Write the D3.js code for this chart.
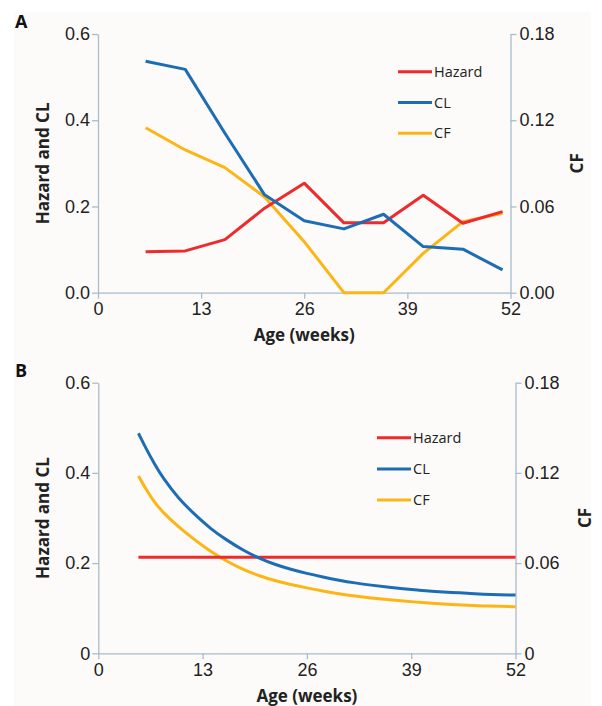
<!DOCTYPE html>
<html>
<head>
<meta charset="utf-8">
<script src="https://cdn.jsdelivr.net/npm/d3@7"></script>
<style>
  body { margin: 0; background: #ffffff; }
  svg { display: block; font-family: "Open Sans", "Noto Sans", sans-serif; }
</style>
</head>
<body>
<svg id="chart" width="602" height="706"></svg>
<script>
// ---------- Data ----------
// Panel A (observed, weekly steps)
const weeksA = [6, 11, 16, 21, 26, 31, 36, 41, 46, 51];
const hazardA = [0.095, 0.097, 0.123, 0.196, 0.254, 0.162, 0.162, 0.226, 0.161, 0.188];
const clA = [0.537, 0.518, 0.370, 0.227, 0.167, 0.148, 0.182, 0.107, 0.101, 0.053];
const cfA = [0.1148, 0.0993, 0.0870, 0.0666, 0.0355, 0.0, 0.0, 0.0274, 0.0494, 0.0552];

// Panel B (model, smooth curves)
const weeksB = [5, 6, 7, 8, 10, 12, 14, 16, 18, 20, 22, 24, 26, 28, 30, 32, 34, 36, 38, 40, 42, 44, 46, 48, 50, 52];
const clB = [0.488, 0.452, 0.420, 0.390, 0.343, 0.308, 0.276, 0.251, 0.229, 0.211, 0.197, 0.186, 0.177, 0.169, 0.162, 0.156, 0.151, 0.147, 0.143, 0.140, 0.137, 0.135, 0.133, 0.131, 0.130, 0.129];
const cfB = [0.118, 0.1085, 0.1005, 0.0940, 0.0840, 0.0755, 0.0677, 0.0612, 0.0558, 0.0516, 0.0483, 0.0457, 0.0435, 0.0414, 0.0396, 0.0381, 0.0368, 0.0357, 0.0347, 0.0339, 0.0331, 0.0325, 0.0319, 0.0315, 0.0312, 0.0310];
const hazardWeeksB = [5, 52];
const hazardB = [0.213, 0.213];

const xTicks = [0, 13, 26, 39, 52];
const leftTicksA = [0, 0.2, 0.4, 0.6];
const rightTicksA = [0, 0.06, 0.12, 0.18];
const leftTicksB = [0, 0.2, 0.4, 0.6];
const rightTicksB = [0, 0.06, 0.12, 0.18];
const seriesNames = ["Hazard", "CL", "CF"];
const seriesColors = ["#ee2a2a", "#1c6db5", "#fdb515"];

// ---------- Drawing ----------
const svg = d3.select("#chart");
svg.append("rect").attr("x", 14).attr("y", 12).attr("width", 577).attr("height", 694).attr("fill", "#fcfbf9");

const axisColor = "#a9bccb";

function panel(cfg) {
  const x = d3.scaleLinear().domain([0, 52]).range([cfg.left, cfg.right]);
  const yL = d3.scaleLinear().domain([0, 0.6]).range([cfg.bottom, cfg.top]);
  const yR = d3.scaleLinear().domain([0, 0.18]).range([cfg.bottom, cfg.top]);
  const g = svg.append("g");

  const styleAxis = (sel) => {
    sel.selectAll("path, line").attr("stroke", axisColor).attr("stroke-width", 1.3);
    sel.selectAll("text").attr("fill", "#222").style("font-size", cfg.tickFont + "px");
  };

  g.append("g").attr("transform", `translate(0,${cfg.bottom})`)
    .call(d3.axisBottom(x).tickValues(xTicks).tickSize(6).tickSizeOuter(0).tickPadding(4).tickFormat(d3.format("d")))
    .call(styleAxis);
  g.append("g").attr("transform", `translate(${cfg.left},0)`)
    .call(d3.axisLeft(yL).tickValues(cfg.leftTicks).tickSize(6).tickSizeOuter(0).tickPadding(2).tickFormat(cfg.leftFmt))
    .call(styleAxis);
  g.append("g").attr("transform", `translate(${cfg.right},0)`)
    .call(d3.axisRight(yR).tickValues(cfg.rightTicks).tickSize(6).tickSizeOuter(0).tickPadding(3).tickFormat(cfg.rightFmt))
    .call(styleAxis);

  const lineL = d3.line().x(d => x(d[0])).y(d => yL(d[1])).curve(cfg.curve);
  const lineR = d3.line().x(d => x(d[0])).y(d => yR(d[1])).curve(cfg.curve);

  const order = [
    { data: d3.zip(cfg.cfWeeks, cfg.cf), gen: lineR, color: seriesColors[2] },
    { data: d3.zip(cfg.hzWeeks, cfg.hazard), gen: lineL, color: seriesColors[0] },
    { data: d3.zip(cfg.clWeeks, cfg.cl), gen: lineL, color: seriesColors[1] }
  ];
  order.forEach(s => {
    g.append("path").attr("d", s.gen(s.data)).attr("fill", "none")
      .attr("stroke", s.color).attr("stroke-width", 3).attr("stroke-linejoin", "round");
  });

  // legend
  seriesNames.forEach((name, i) => {
    const ly = cfg.legY + i * cfg.legStep;
    g.append("line").attr("x1", cfg.legX).attr("x2", cfg.legX + 34).attr("y1", ly).attr("y2", ly)
      .attr("stroke", seriesColors[i]).attr("stroke-width", 3);
    g.append("text").attr("x", cfg.legX + 36).attr("y", ly).attr("dy", "0.35em")
      .style("font-size", "14.5px").attr("fill", "#222").text(name);
  });

  // axis titles
  g.append("text").attr("transform", `translate(${cfg.leftTitleX},${(cfg.top + cfg.bottom) / 2}) rotate(-90)`)
    .attr("text-anchor", "middle").attr("dy", "0.35em").style("font-size", "17px").style("font-weight", "bold")
    .attr("fill", "#222").text("Hazard and CL");
  g.append("text").attr("transform", `translate(${cfg.rightTitleX},${(cfg.top + cfg.bottom) / 2}) rotate(-90)`)
    .attr("text-anchor", "middle").attr("dy", "0.35em").style("font-size", "17px").style("font-weight", "bold")
    .attr("fill", "#222").text("CF");
  g.append("text").attr("x", (cfg.left + cfg.right) / 2).attr("y", cfg.xTitleY)
    .attr("text-anchor", "middle").style("font-size", "17px").style("font-weight", "bold")
    .attr("fill", "#222").text("Age (weeks)");
  g.append("text").attr("x", 15).attr("y", cfg.labelY)
    .style("font-size", "18px").style("font-weight", "bold").attr("fill", "#111").text(cfg.label);
}

panel({
  label: "A", labelY: 28,
  left: 98, right: 510.5, top: 34, bottom: 292.7,
  tickFont: 18,
  leftTicks: leftTicksA, rightTicks: rightTicksA,
  leftFmt: d3.format(".1f"), rightFmt: d3.format(".2f"),
  curve: d3.curveLinear,
  hzWeeks: weeksA, hazard: hazardA,
  clWeeks: weeksA, cl: clA,
  cfWeeks: weeksA, cf: cfA,
  legX: 398, legY: 71.7, legStep: 30.8,
  leftTitleX: 43, rightTitleX: 577, xTitleY: 341
});

panel({
  label: "B", labelY: 377,
  left: 98.3, right: 515.5, top: 382.7, bottom: 653.3,
  tickFont: 18,
  leftTicks: leftTicksB, rightTicks: rightTicksB,
  leftFmt: d => d === 0 ? "0" : d3.format(".1f")(d),
  rightFmt: d => d === 0 ? "0" : d3.format(".2f")(d),
  curve: d3.curveBasis,
  hzWeeks: hazardWeeksB, hazard: hazardB,
  clWeeks: weeksB, cl: clB,
  cfWeeks: weeksB, cf: cfB,
  legX: 377, legY: 437.7, legStep: 31.2,
  leftTitleX: 43, rightTitleX: 585, xTitleY: 702
});
</script>
</body>
</html>
